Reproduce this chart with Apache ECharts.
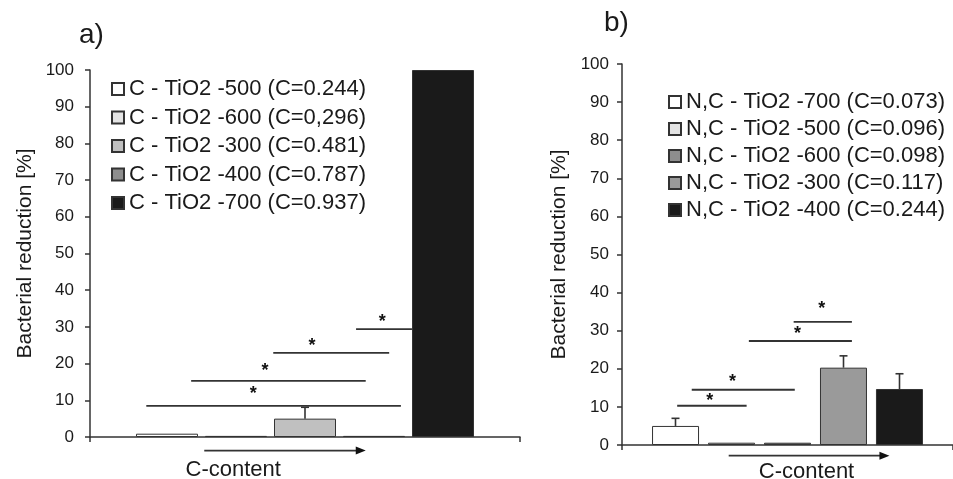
<!DOCTYPE html>
<html>
<head>
<meta charset="utf-8">
<script src="https://cdn.jsdelivr.net/npm/echarts@6/dist/echarts.min.js"></script>
<style>
  html, body { margin: 0; padding: 0; background: #fff; }
  #chart { width: 953px; height: 479px; }
</style>
</head>
<body>
<div id="chart"></div>
<script>
// panel a) C-TiO2
const namesA = ['C - TiO2 -500 (C=0.244)', 'C - TiO2 -600 (C=0,296)', 'C - TiO2 -300 (C=0.481)', 'C - TiO2 -400 (C=0.787)', 'C - TiO2 -700 (C=0.937)'];
const valuesA = [0.9, 0.3, 5.0, 0.3, 100];
const errorsA = [0, 0, 3.1, 0, 0];
const colorsA = ['#ffffff', '#e4e4e4', '#c0c0c0', '#8e8e8e', '#1a1a1a'];
// significance bars: [fromSlot, toSlot, height, starSlot, starHeight]  (slot = bar index)
const sigA = [
  [-0.30, 3.39, 8.5, 1.25, 12.7],
  [0.35, 2.88, 15.3, 1.42, 19.2],
  [1.54, 3.22, 22.9, 2.10, 25.8],
  [2.74, 3.55, 29.4, 3.12, 32.4]
];
const arrowA = [0.54, 2.88, -3.7, 0.96, -9.1];

// panel b) N,C-TiO2
const namesB = ['N,C - TiO2 -700 (C=0.073)', 'N,C - TiO2 -500 (C=0.096)', 'N,C - TiO2 -600 (C=0.098)', 'N,C - TiO2 -300 (C=0.117)', 'N,C - TiO2 -400 (C=0.244)'];
const valuesB = [5.0, 0.6, 0.6, 20.3, 14.7];
const errorsB = [2.0, 0, 0, 3.1, 4.0];
const colorsB = ['#ffffff', '#e4e4e4', '#8e8e8e', '#9a9a9a', '#1a1a1a'];
const sigB = [
  [0.03, 1.27, 10.3, 0.61, 12.6],
  [0.29, 2.13, 14.5, 1.02, 17.6],
  [1.31, 3.15, 27.3, 2.18, 30.2],
  [2.11, 3.15, 32.3, 2.61, 36.7]
];
const arrowB = [0.95, 3.82, -2.8, 2.34, -7.1];

const yTicks = [0, 100, 10];
const FONT = 'Liberation Sans, Arial, sans-serif';
const INK = '#333';

const chart = echarts.init(document.getElementById('chart'));

const panels = [
  { names: namesA, values: valuesA, errors: errorsA, colors: colorsA, sig: sigA, arrow: arrowA, barWidth: 62, gap: 7 },
  { names: namesB, values: valuesB, errors: errorsB, colors: colorsB, sig: sigB, arrow: arrowB, barWidth: 47, gap: 9 }
];

// x pixel of a bar slot, measured from the category center
const slotX = (api, p, s) => api.coord([0, 0])[0] + (s - 2) * (p.barWidth + p.gap);

const series = [];
panels.forEach((p, gi) => {
  p.names.forEach((name, i) => {
    series.push({
      type: 'bar',
      name: name,
      xAxisIndex: gi,
      yAxisIndex: gi,
      barWidth: p.barWidth,
      barGap: (p.gap / p.barWidth * 100).toFixed(1) + '%',
      data: [p.values[i]],
      itemStyle: { color: p.colors[i], borderColor: INK, borderWidth: 1 },
      emphasis: { disabled: true }
    });
  });

  // error bars (upper only)
  series.push({
    type: 'custom',
    xAxisIndex: gi,
    yAxisIndex: gi,
    clip: false,
    silent: true,
    data: p.values.map((v, i) => [i, v, p.errors[i]]),
    renderItem: (params, api) => {
      const i = api.value(0), v = api.value(1), e = api.value(2);
      if (!e) return;
      const x = slotX(api, p, i);
      const y0 = api.coord([0, v])[1];
      const y1 = api.coord([0, v + e])[1];
      const style = { stroke: INK, lineWidth: 1.6 };
      return {
        type: 'group',
        children: [
          { type: 'line', shape: { x1: x, y1: y0, x2: x, y2: y1 }, style },
          { type: 'line', shape: { x1: x - 4, y1: y1, x2: x + 4, y2: y1 }, style }
        ]
      };
    }
  });

  // significance lines with stars
  series.push({
    type: 'custom',
    xAxisIndex: gi,
    yAxisIndex: gi,
    clip: false,
    silent: true,
    data: p.sig,
    renderItem: (params, api) => {
      const y = api.coord([0, api.value(2)])[1];
      const sy = api.coord([0, api.value(4)])[1];
      return {
        type: 'group',
        children: [
          { type: 'line', shape: { x1: slotX(api, p, api.value(0)), y1: y, x2: slotX(api, p, api.value(1)), y2: y },
            style: { stroke: INK, lineWidth: 1.8 } },
          { type: 'text', x: slotX(api, p, api.value(3)), y: sy + 4,
            style: { text: '*', fill: '#111', font: 'bold 18px ' + FONT, align: 'center', verticalAlign: 'middle' } }
        ]
      };
    }
  });

  // C-content arrow
  series.push({
    type: 'custom',
    xAxisIndex: gi,
    yAxisIndex: gi,
    clip: false,
    silent: true,
    data: [p.arrow],
    renderItem: (params, api) => {
      const x1 = slotX(api, p, api.value(0));
      const x2 = slotX(api, p, api.value(1));
      const y = api.coord([0, api.value(2)])[1];
      const ty = api.coord([0, api.value(4)])[1];
      return {
        type: 'group',
        children: [
          { type: 'line', shape: { x1: x1, y1: y, x2: x2 - 8, y2: y }, style: { stroke: INK, lineWidth: 1.8 } },
          { type: 'polygon', shape: { points: [[x2, y], [x2 - 10, y - 4], [x2 - 10, y + 4]] }, style: { fill: '#111' } },
          { type: 'text', x: slotX(api, p, api.value(3)), y: ty,
            style: { text: 'C-content', fill: '#1a1a1a', font: '22px ' + FONT, align: 'center', verticalAlign: 'middle' } }
        ]
      };
    }
  });
});

const yAxisBase = (gap, margin) => ({
  type: 'value',
  min: yTicks[0],
  max: yTicks[1],
  interval: yTicks[2],
  name: 'Bacterial reduction [%]',
  nameLocation: 'middle',
  nameGap: gap,
  nameTextStyle: { fontFamily: FONT, fontSize: 21, color: '#1a1a1a' },
  axisLine: { show: true, lineStyle: { color: INK, width: 1.5 } },
  axisTick: { show: true, length: 5, lineStyle: { color: INK, width: 1.5 } },
  axisLabel: { fontFamily: FONT, fontSize: 17, color: '#1a1a1a', margin: margin },
  splitLine: { show: false }
});

const xAxisBase = {
  type: 'category',
  data: [''],
  axisLine: { lineStyle: { color: INK, width: 1.5 } },
  axisTick: { show: true, length: 5, lineStyle: { color: INK, width: 1.5 } },
  axisLabel: { show: false }
};

const legendBase = (names, left, top, gap) => ({
  data: names,
  orient: 'vertical',
  left: left,
  top: top,
  padding: 0,
  icon: 'rect',
  itemWidth: 12,
  itemHeight: 12,
  itemGap: gap,
  selectedMode: false,
  textStyle: { fontFamily: FONT, fontSize: 22, color: '#1a1a1a', lineHeight: 22 }
});

chart.setOption({
  animation: false,
  backgroundColor: '#fff',
  title: [
    { text: 'a)', left: 74, top: 16, textStyle: { fontFamily: FONT, fontSize: 28, fontWeight: 'normal', color: '#1a1a1a' } },
    { text: 'b)', left: 599, top: 4, textStyle: { fontFamily: FONT, fontSize: 28, fontWeight: 'normal', color: '#1a1a1a' } }
  ],
  legend: [
    legendBase(namesA, 111, 78, 6.5),
    legendBase(namesB, 668, 91, 5)
  ],
  grid: [
    { left: 90, top: 70, width: 430, height: 367 },
    { left: 622, top: 64, width: 342, height: 381 }
  ],
  xAxis: [
    Object.assign({ gridIndex: 0 }, xAxisBase),
    Object.assign({ gridIndex: 1 }, xAxisBase)
  ],
  yAxis: [
    Object.assign({ gridIndex: 0 }, yAxisBase(54, 16)),
    Object.assign({ gridIndex: 1 }, yAxisBase(52, 13))
  ],
  series: series
});
</script>
</body>
</html>
